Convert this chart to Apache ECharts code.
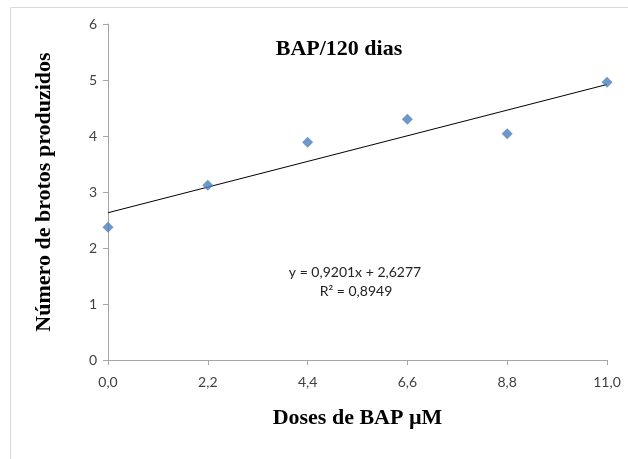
<!DOCTYPE html>
<html>
<head>
<meta charset="utf-8">
<script src="https://cdn.jsdelivr.net/npm/echarts@6/dist/echarts.min.js"></script>
<style>html,body{margin:0;padding:0;background:#fff}#c{width:628px;height:459px}</style>
</head>
<body>
<div id="c"></div>
<script>
var categories = ['0,0', '2,2', '4,4', '6,6', '8,8', '11,0'];
var brotos = [2.37, 3.12, 3.89, 4.30, 4.04, 4.96];
var trendEnds = [2.63, 4.92];
var yTicks = [0, 1, 2, 3, 4, 5, 6];
var titleText = 'BAP/120 dias';
var eqText = 'y = 0,9201x + 2,6277';
var r2Text = 'R² = 0,8949';

var chart = echarts.init(document.getElementById('c'), null, {renderer: 'canvas'});
var serif = '"Liberation Serif", "Times New Roman", serif';
var sans = 'Lato, "Open Sans", sans-serif';
chart.setOption({
  animation: false,
  backgroundColor: '#fff',
  grid: {left: 108, right: 21, top: 24, bottom: 99, containLabel: false},
  graphic: [
    {type: 'rect', shape: {x: 10.5, y: 7.5, width: 640, height: 470}, style: {fill: 'none', stroke: '#d9d9d9', lineWidth: 1}, silent: true},
    {type: 'text', style: {text: titleText, font: 'bold 22px ' + serif, fill: '#000', x: 339, y: 49, align: 'center', verticalAlign: 'middle'}},
    {type: 'text', style: {text: eqText, font: '14px ' + sans, fill: '#222', x: 355, y: 272, align: 'center', verticalAlign: 'middle'}},
    {type: 'text', style: {text: r2Text, font: '14px ' + sans, fill: '#222', x: 356, y: 291, align: 'center', verticalAlign: 'middle'}}
  ],
  xAxis: {
    type: 'category',
    data: categories,
    boundaryGap: false,
    name: 'Doses de BAP µM',
    nameLocation: 'middle',
    nameGap: 47,
    nameTextStyle: {fontFamily: serif, fontWeight: 'bold', fontSize: 22, color: '#000'},
    axisLine: {lineStyle: {color: '#a6a6a6', width: 1}},
    axisTick: {show: true, alignWithLabel: true, length: 5, lineStyle: {color: '#a6a6a6'}},
    axisLabel: {fontFamily: sans, fontSize: 14, color: '#404040', margin: 15},
    splitLine: {show: false}
  },
  yAxis: {
    type: 'value',
    min: yTicks[0],
    max: yTicks[yTicks.length - 1],
    interval: 1,
    name: 'Número de brotos produzidos',
    nameLocation: 'middle',
    nameGap: 53,
    nameRotate: 90,
    nameTextStyle: {fontFamily: serif, fontWeight: 'bold', fontSize: 22, color: '#000'},
    axisLine: {show: true, lineStyle: {color: '#a6a6a6', width: 1}},
    axisTick: {show: true, length: 5, lineStyle: {color: '#a6a6a6'}},
    axisLabel: {fontFamily: sans, fontSize: 14, color: '#404040', margin: 11},
    splitLine: {show: false}
  },
  series: [
    {
      type: 'line',
      data: [[0, trendEnds[0]], [categories.length - 1, trendEnds[1]]],
      symbol: 'none',
      lineStyle: {color: '#000', width: 1},
      z: 2,
      silent: true
    },
    {
      type: 'scatter',
      data: brotos,
      symbol: 'diamond',
      symbolSize: 11,
      itemStyle: {color: '#4a7ebb'},
      z: 3
    }
  ]
});
</script>
</body>
</html>
